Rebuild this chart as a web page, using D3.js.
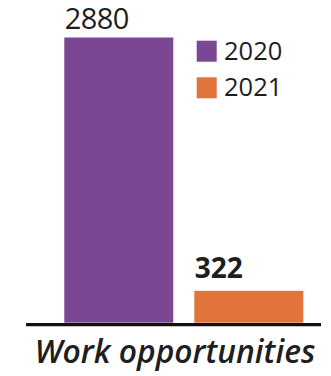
<!DOCTYPE html>
<html>
<head>
<meta charset="utf-8">
<script src="https://cdn.jsdelivr.net/npm/d3@7"></script>
<style>
  html, body { margin: 0; padding: 0; background: #fff; }
  svg { display: block; }
  text { font-family: "Open Sans", "Noto Sans", sans-serif; fill: #1e1e1e; }
</style>
</head>
<body>
<svg id="chart" width="331" height="376"></svg>
<script>
// Data
const years = ["2020", "2021"];
const values = [2880, 322];
const seriesColors = ["#7b4692", "#e0743b"];
const categoryLabel = "Work opportunities";

const svg = d3.select("#chart");

const baseY = 322.7;
const x = d3.scaleBand().domain(years).range([64.3, 303.3]).paddingInner(0.162);
const y = d3.scaleLinear().domain([0, 2880]).range([baseY, 37.5]);

// Bars
svg.selectAll("rect.bar")
  .data(years)
  .join("rect")
  .attr("class", "bar")
  .attr("x", d => x(d))
  .attr("y", (d, i) => y(values[i]))
  .attr("width", x.bandwidth())
  .attr("height", (d, i) => baseY - y(values[i]))
  .attr("fill", (d, i) => seriesColors[i]);

// Value labels: first regular above its bar, second bold
const labelStyle = [
  { size: 29, weight: 400, gap: 8.3, spacing: -0.6 },
  { size: 28, weight: 700, gap: 12.4, spacing: 0 }
];
svg.selectAll("text.val")
  .data(years)
  .join("text")
  .attr("class", "val")
  .attr("x", d => x(d) + 0.5)
  .attr("y", (d, i) => y(values[i]) - labelStyle[i].gap)
  .attr("font-size", (d, i) => labelStyle[i].size)
  .attr("font-weight", (d, i) => labelStyle[i].weight)
  .attr("letter-spacing", (d, i) => labelStyle[i].spacing)
  .text((d, i) => d3.format("d")(values[i]));

// Baseline axis
svg.append("line")
  .attr("x1", 26).attr("x2", 321)
  .attr("y1", 324.6).attr("y2", 324.6)
  .attr("stroke", "#111").attr("stroke-width", 3.4);

// Category label
svg.append("text")
  .attr("x", 175).attr("y", 363)
  .attr("text-anchor", "middle")
  .attr("font-size", 31.8)
  .attr("font-style", "italic")
  .attr("font-weight", 600)
  .text(categoryLabel);

// Legend
const legend = svg.append("g").attr("transform", "translate(196.7,40.7)");
const item = legend.selectAll("g")
  .data(years)
  .join("g")
  .attr("transform", (d, i) => `translate(0,${i * 36.6})`);
item.append("rect")
  .attr("width", 20).attr("height", 21)
  .attr("fill", (d, i) => seriesColors[i]);
item.append("text")
  .attr("x", 27.3).attr("y", 18.8)
  .attr("font-size", 25.5)
  .text(d => d);
</script>
</body>
</html>
